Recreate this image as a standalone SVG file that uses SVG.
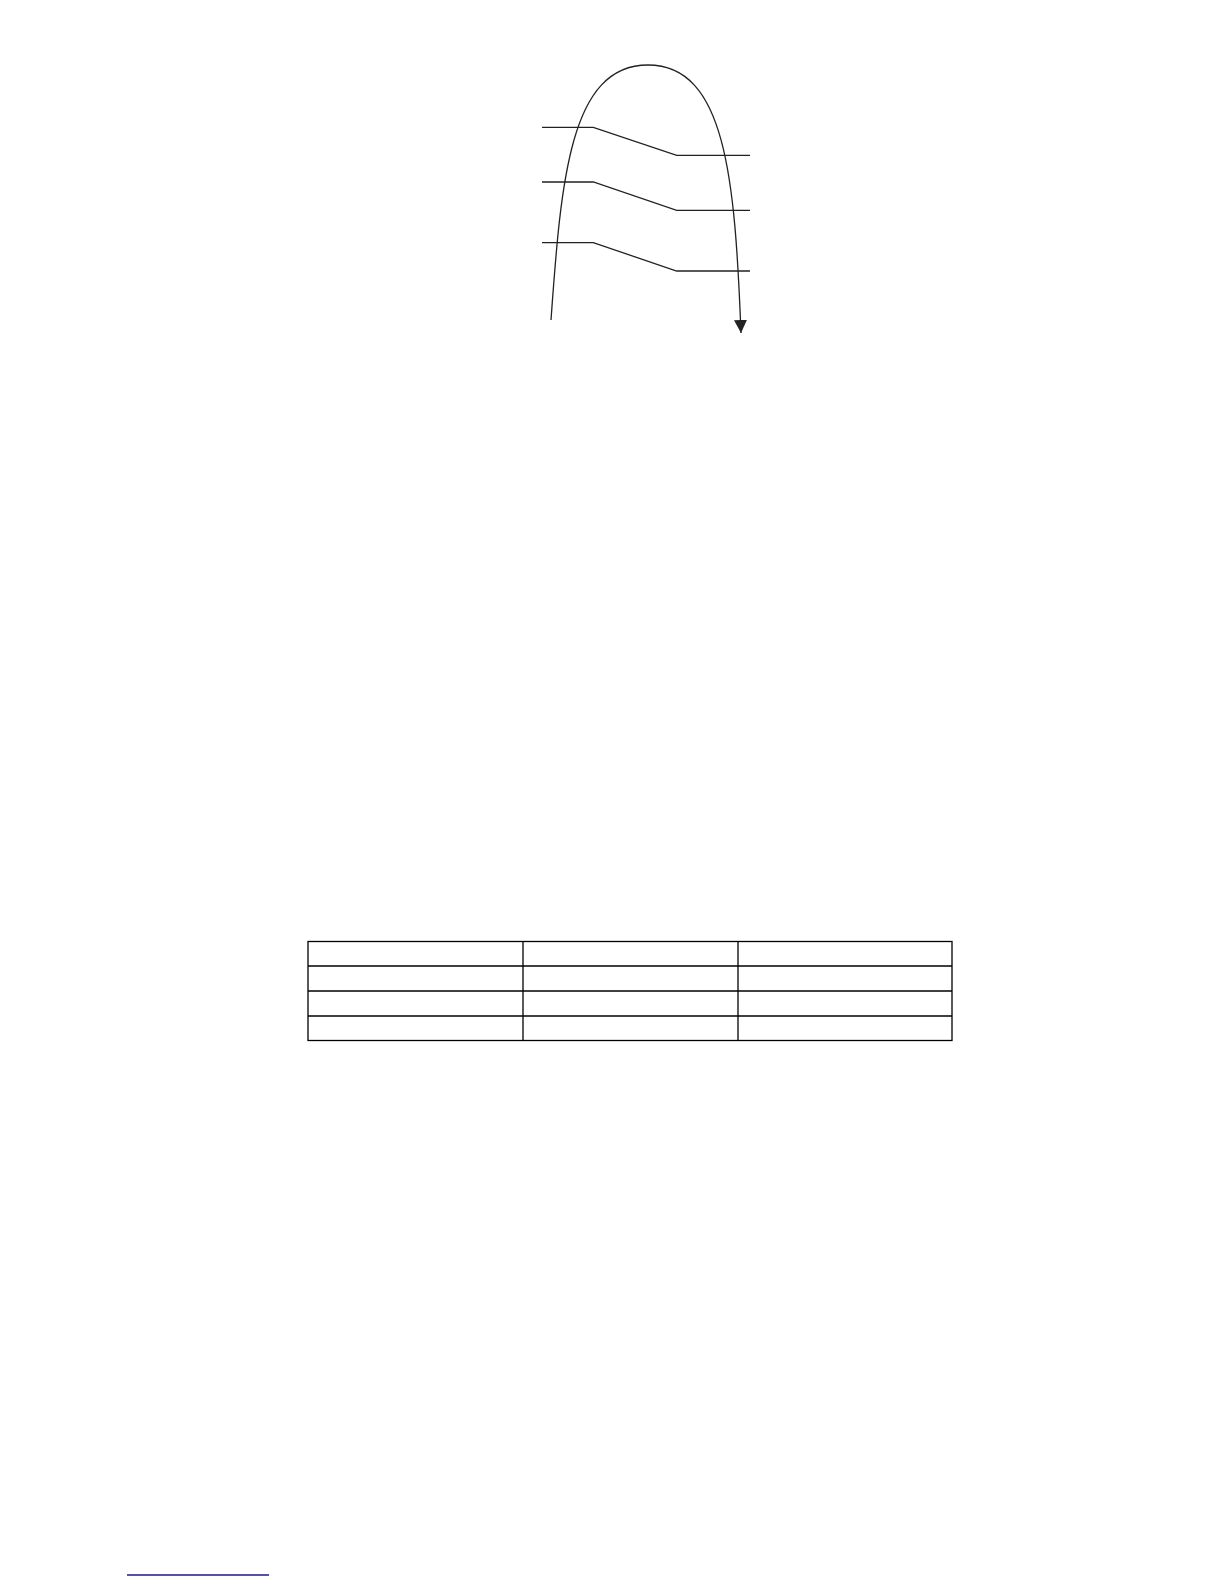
<svg xmlns="http://www.w3.org/2000/svg" width="1224" height="1584" viewBox="0 0 1224 1584">
<style>
.ln{fill:none;stroke:#222;stroke-width:1.3}
.tb{fill:none;stroke:#000;stroke-width:1.3}
</style>
<defs>
<marker id="arr" viewBox="0 0 10 10" refX="10" refY="5" markerWidth="13" markerHeight="13" markerUnits="userSpaceOnUse" orient="auto">
<path d="M0,0 L10,5 L0,10 z" fill="#222"/>
</marker>
</defs>
<rect width="1224" height="1584" fill="#fff"/>
<g id="figure">
<g id="connectors">
<path class="ln" d="M551 320 C561 180 570 65 648 65 C726 65 735 180 741 333" marker-end="url(#arr)"/>
</g>
<g id="strips">
<path class="ln" d="M542 127.3 L593.3 127.3 L676.7 155.3 L750 155.3"/>
<path class="ln" d="M542 182 L593.3 182 L676.7 210.3 L750 210.3"/>
<path class="ln" d="M542 242.7 L593.3 242.7 L676.7 271 L750 271"/>
</g>
</g>
<g id="table">
<rect class="tb" x="308" y="941.5" width="644" height="99"/>
<line class="tb" x1="523" y1="941.5" x2="523" y2="1040.5"/>
<line class="tb" x1="738" y1="941.5" x2="738" y2="1040.5"/>
<line class="tb" x1="308" y1="966" x2="952" y2="966"/>
<line class="tb" x1="308" y1="991" x2="952" y2="991"/>
<line class="tb" x1="308" y1="1016" x2="952" y2="1016"/>
</g>
<line id="footnote-rule" x1="127" y1="1575" x2="269" y2="1575" stroke="#1a1a8c" stroke-width="1.3"/>
</svg>
